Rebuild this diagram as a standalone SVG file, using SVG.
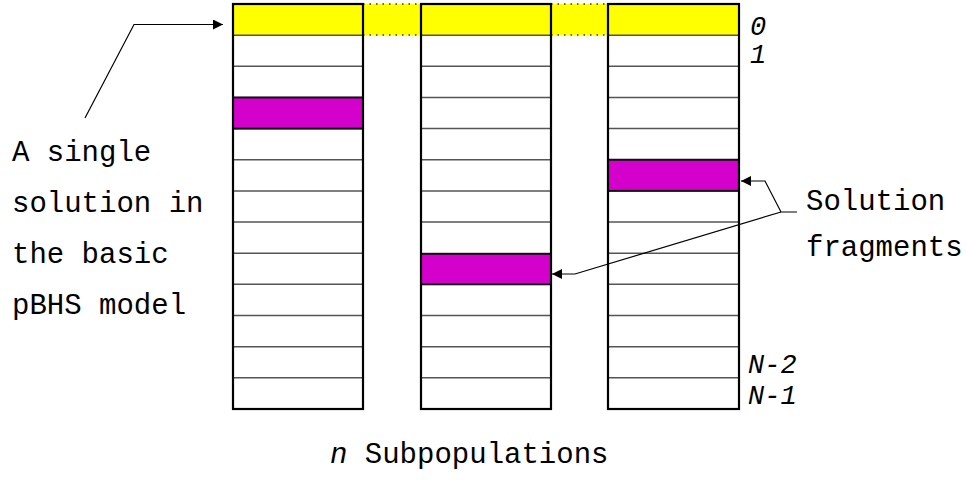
<svg xmlns="http://www.w3.org/2000/svg" width="967" height="481" viewBox="0 0 967 481">
  <style>
    .row { fill: none; stroke: #555; stroke-width: 1.5; }
    .frame { fill: none; stroke: #000; stroke-width: 2.2; }
    .hit { fill: #d400cc; stroke: #111; stroke-width: 2; }
    .band { fill: #ffff00; stroke: none; }
    .dots { stroke: #333; stroke-width: 1.5; stroke-dasharray: 1.5 5; fill: none; }
    .lbl { font-family: "Liberation Mono", "Courier New", monospace; font-size: 29px; fill: #000; }
    .idx { font-family: "Liberation Mono", "Courier New", monospace; font-style: italic; font-size: 27px; fill: #000; }
    .wire { fill: none; stroke: #000; stroke-width: 1.2; }
  </style>
  <defs>
    <marker id="head" viewBox="0 0 10 10" refX="10" refY="5" markerWidth="15" markerHeight="10" markerUnits="userSpaceOnUse" orient="auto">
      <path d="M0,0 L10,5 L0,10 z" fill="#000"/>
    </marker>
  </defs>

  <!-- row 0 across all subpopulations -->
  <g id="band0">
    <rect class="band" x="233" y="4" width="506" height="31"/>
    <line class="dots" x1="363" y1="4" x2="421" y2="4"/>
    <line class="dots" x1="363" y1="35" x2="421" y2="35"/>
    <line class="dots" x1="551" y1="4" x2="608" y2="4"/>
    <line class="dots" x1="551" y1="35" x2="608" y2="35"/>
  </g>

  <g id="sub1">
    <g class="row">
      <line x1="233" y1="35.15" x2="363" y2="35.15"/>
      <line x1="233" y1="66.3" x2="363" y2="66.3"/>
      <line x1="233" y1="128.6" x2="363" y2="128.6"/>
      <line x1="233" y1="159.75" x2="363" y2="159.75"/>
      <line x1="233" y1="190.9" x2="363" y2="190.9"/>
      <line x1="233" y1="222.05" x2="363" y2="222.05"/>
      <line x1="233" y1="253.2" x2="363" y2="253.2"/>
      <line x1="233" y1="284.35" x2="363" y2="284.35"/>
      <line x1="233" y1="315.5" x2="363" y2="315.5"/>
      <line x1="233" y1="346.65" x2="363" y2="346.65"/>
      <line x1="233" y1="377.8" x2="363" y2="377.8"/>
    </g>
    <rect class="hit" x="233" y="97.45" width="130" height="31.15"/>
    <rect class="frame" x="233" y="4" width="130" height="405"/>
  </g>

  <g id="sub2">
    <g class="row">
      <line x1="421" y1="35.15" x2="551" y2="35.15"/>
      <line x1="421" y1="66.3" x2="551" y2="66.3"/>
      <line x1="421" y1="97.45" x2="551" y2="97.45"/>
      <line x1="421" y1="128.6" x2="551" y2="128.6"/>
      <line x1="421" y1="159.75" x2="551" y2="159.75"/>
      <line x1="421" y1="190.9" x2="551" y2="190.9"/>
      <line x1="421" y1="222.05" x2="551" y2="222.05"/>
      <line x1="421" y1="315.5" x2="551" y2="315.5"/>
      <line x1="421" y1="346.65" x2="551" y2="346.65"/>
      <line x1="421" y1="377.8" x2="551" y2="377.8"/>
    </g>
    <rect class="hit" x="421" y="253.8" width="130" height="30.5"/>
    <rect class="frame" x="421" y="4" width="130" height="405"/>
  </g>

  <g id="sub3">
    <g class="row">
      <line x1="608" y1="35.15" x2="739" y2="35.15"/>
      <line x1="608" y1="66.3" x2="739" y2="66.3"/>
      <line x1="608" y1="97.45" x2="739" y2="97.45"/>
      <line x1="608" y1="128.6" x2="739" y2="128.6"/>
      <line x1="608" y1="222.05" x2="739" y2="222.05"/>
      <line x1="608" y1="253.2" x2="739" y2="253.2"/>
      <line x1="608" y1="284.35" x2="739" y2="284.35"/>
      <line x1="608" y1="315.5" x2="739" y2="315.5"/>
      <line x1="608" y1="346.65" x2="739" y2="346.65"/>
      <line x1="608" y1="377.8" x2="739" y2="377.8"/>
    </g>
    <rect class="hit" x="608" y="159.75" width="131" height="31.15"/>
    <rect class="frame" x="608" y="4" width="131" height="405"/>
  </g>

  <g id="indices">
    <text class="idx" x="750" y="35">0</text>
    <text class="idx" x="750" y="63">1</text>
    <text class="idx" x="748" y="373">N-2</text>
    <text class="idx" x="748" y="404">N-1</text>
  </g>

  <g id="single-label">
    <text class="lbl" x="12" y="161">A single</text>
    <text class="lbl" x="12" y="212">solution in</text>
    <text class="lbl" x="12" y="263">the basic</text>
    <text class="lbl" x="12" y="314">pBHS model</text>
  </g>

  <g id="fragments-label">
    <text class="lbl" x="806" y="210">Solution</text>
    <text class="lbl" x="806" y="256">fragments</text>
  </g>

  <g id="bottom-label">
    <text class="lbl" x="330" y="463"><tspan font-style="italic">n</tspan> Subpopulations</text>
  </g>

  <g id="connectors">
    <polyline class="wire" points="85,118 134,24.5 223,24.5" marker-end="url(#head)"/>
    <polyline class="wire" points="797,212 781,212 765,181 741,181" marker-end="url(#head)"/>
    <polyline class="wire" points="781,212 575,274 552,274" marker-end="url(#head)"/>
  </g>
</svg>
